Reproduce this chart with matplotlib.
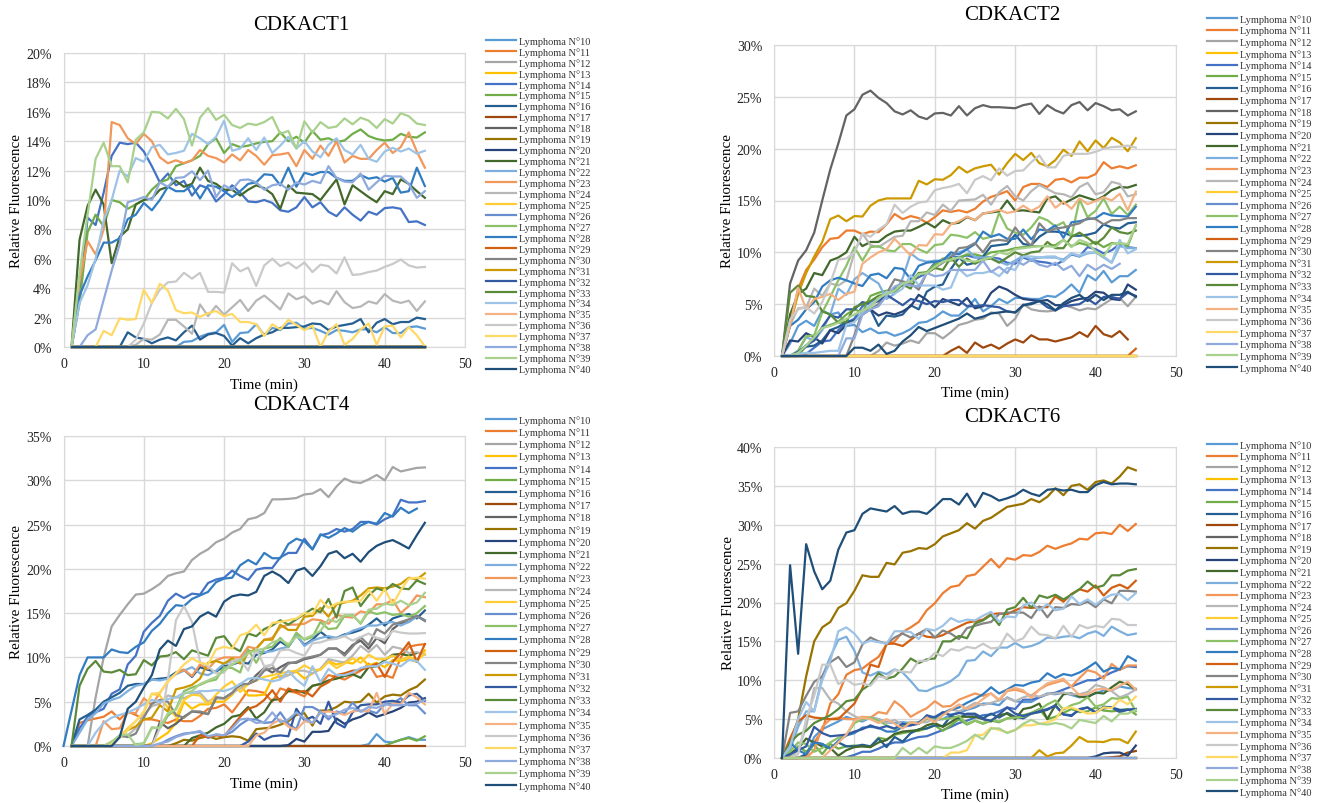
import matplotlib
matplotlib.use('Agg')
import matplotlib.pyplot as plt
from matplotlib.ticker import PercentFormatter

plt.rcParams['font.family'] = ['Liberation Serif', 'DejaVu Serif']

# Office palette order, one colour per lymphoma number
colors = {10: '#5B9BD5', 11: '#ED7D31', 12: '#A5A5A5', 13: '#FFC000', 14: '#4472C4', 15: '#70AD47',
          16: '#255E91', 17: '#9E480E', 18: '#636363', 19: '#997300', 20: '#264478', 21: '#43682B',
          22: '#7CAFDD', 23: '#F1975A', 24: '#B7B7B7', 25: '#FFCD33', 26: '#698ED0', 27: '#8CC168',
          28: '#327DC2', 29: '#D26012', 30: '#848484', 31: '#CC9A00', 32: '#335AA1', 33: '#5A8A39',
          34: '#9DC3E6', 35: '#F4B183', 36: '#C9C9C9', 37: '#FFD966', 38: '#8FAADC', 39: '#A9D18E',
          40: '#1F4E79'}
numbers = list(range(10, 41))

# CDKACT1 (percent, minute 1 to 45)
a1_10 = [0]*14 + [0.35,0.4,0.7,0.9,1,1.5,0.35,0.95,1,1.55,0.8,1.3,1.15,1.6,1.65,1.25,1.3,1.1,0.85,1.15,1.1,1,1.2,1.2,1,1.35,0.95,0.95,1.35,1.4,1.25]
a1_14 = [0,3.2,8.8,8.3,10.5,13,13.9,13.8,13.9,13.3,12.3,11.2,11.8,11,11.3,10.3,11,10.8,9.9,10.4,11,10.5,9.9,9.85,10,9.8,9.3,9.2,9.5,10.2,9.5,9.85,9.2,8.9,9.5,9,8.6,9.2,9,9.45,9.5,9.4,8.5,8.55,8.3]
a1_15 = [0,3,7.8,9,8.2,10,9.85,9.4,9.7,10,10.7,11.2,11.4,12.3,12.5,12.7,13,13.8,14.2,13.2,13.8,13.6,13.7,13.85,13.95,14,14.6,14,14.3,13.9,14.7,14.1,14.2,13.95,14.05,14.5,14.8,14.35,14.15,14.05,14.1,14.5,14.3,14.25,14.6]
a1_16 = [0]*7 + [1,0.65,0.55,0.25,0.5,0.65,0.45,1,1.45,0.5,0.85,0.95,0.75,0.1,0.6,0.25,0.6,0.85,1,1.3,1.3,1.35,1.4,1.6,1.55,1.15,1.4,1.5,1.6,1.9,1,1.65,1.9,1.55,1.7,1.7,2,1.9]
a1_21 = [0,7.3,9.6,10.7,9.7,5.7,7.5,8,9.7,10,10.1,10.7,10.9,11.3,10.9,11.1,12.2,11.3,11.1,10.7,10.7,10.3,10.7,11,10.8,10.4,9.4,11,10.5,10.45,10.4,10,10.7,11.4,9.7,11,10.6,10.2,9.85,10.6,10.4,11.4,11.1,10.6,10.15]
a1_23 = [0,4.5,7.2,6.3,8,15.3,15.1,14.2,13.8,14.5,14,12.9,12.5,12.7,12.5,12.7,13.4,13,12.85,12.55,13.1,12.7,13.4,13,12.4,13.05,13.1,13.2,12.3,13.4,12.8,13.7,13,14,12.55,13,12.8,12.8,13.4,13.9,13.2,13.6,14.6,13.3,12.2]
a1_24 = [0]*8 + [0.15,0.55,0.5,0.85,1.85,1.85,1.4,0.9,2.9,2.1,2.8,2.2,2.7,3.2,2.45,3.15,3.5,3.05,2.55,3.65,3.25,3.45,2.95,3.15,2.9,3.8,3.05,2.65,2.75,3.1,2.95,3.6,3.15,3,3.15,2.45,3.1]
a1_28 = [0,3.5,4.8,5.9,7.1,7.1,7.4,8.7,9,9.8,9.3,10,10.9,10.6,10.6,11,10.1,11,10.9,10.6,10.2,10.6,11.1,11.2,11.75,11.7,11,12.2,10.9,11.85,11.7,11.9,11.9,11.5,11.3,11.3,11.7,11.45,11.55,11.25,11.5,10.5,10.6,12.2,10.95]
a1_34 = [0,3,4.2,6,8.6,10,12,11.6,12.85,12.6,13.6,13.75,13.1,13.2,13.35,14.5,14.2,13.8,14.3,15.4,13.35,13.5,14.2,13.4,14.25,13.2,13.7,14.3,13.5,14,13.3,12.9,13.75,14.2,13.4,13.1,13.75,12.8,12.6,13.3,13.55,13.3,13.5,13.15,13.35]
a1_36 = [0]*8 + [0.5,1.6,3,3.9,4.4,4.45,5.05,4.65,5.05,3.75,3.75,3.7,5.7,5.15,5.4,4.15,5.55,6,5.5,5.75,5.35,5.75,5.1,5.6,5.5,5,6.1,4.9,4.95,5.1,5.2,5.45,5.65,5.95,5.55,5.4,5.45]
a1_37 = [0]*4 + [1.1,0.8,1.95,1.85,1.9,3.9,3,4.3,3.85,2.5,2.3,2.35,2.05,2.3,2.45,2.1,2.25,1.7,1.7,1.55,0.75,1.55,1.2,1.85,1.5,1.15,1.45,0,1.05,1.55,0.15,0.55,1.2,1.6,0.15,1.4,1.45,0.65,1.35,0.8,0.05]
a1_38 = [0,0,0.8,1.2,3.2,5.2,7,9.85,10,10.2,10,11.2,10.9,11.5,11.55,11.95,11.35,12,10.2,11,10.7,11.35,11.4,11.2,10.7,11,11.1,10.7,11.2,11.05,11.3,11.15,12.3,11.5,11.25,11.2,11.8,10.7,11.2,11.65,11.6,11.6,11.1,10.15,10.6]
a1_39 = [0,5,9,12.8,13.9,12.3,12.3,11.2,14.1,14.6,16,15.95,15.55,16.2,15.5,13.7,15.6,16.25,15.45,15.8,15.1,14.9,15.2,15.1,15.3,15.65,14.5,14.7,13.5,15.35,14.6,15.3,14.9,15,15.55,15.15,15.6,15.4,14.9,15.5,15.2,15.9,15.7,15.2,15.1]

# CDKACT2
a2_10 = [0,1.2,2.9,3.4,2.9,4.4,4,4.2,2.9,3,2.3,2.65,2.2,2.3,1.95,2.2,2.6,3.2,3.3,3.7,4.3,3.9,3.9,4.6,5.5,4.3,4.8,5.5,5.1,5.6,5.6,5.5,5.5,5.8,5.7,6.2,6.9,6.1,7.8,7.3,8.2,7.1,7.7,7.7,8.3]
a2_11 = [0,3,6.5,8.3,9.3,10.5,11.3,11.4,12.1,12.1,11.75,12,11.95,12.7,13.7,13.2,13.5,13.3,12.85,13.4,14.05,13.9,14.05,13.85,14.2,14.9,15.35,15.6,15.9,15,16.3,16.6,16.6,16.3,17,17.1,16.75,17.2,17.2,17.55,18.7,18.1,18.3,18.1,18.4]
a2_12 = [0]*12 + [0.5,1.3,1,1.2,1.5,1.25,2.2,2.2,1.7,2.3,3,3.2,3.5,3.6,4.2,4.1,2.9,3.6,5,4.5,4.35,4.3,4.4,4.9,4.7,4.4,4.6,4.5,5,5.5,5.6,4.8,5.7]
a2_14 = [0,0,0,0.2,0.8,1.4,1.5,2.5,3.2,3.6,4.8,5.2,5.5,6,6.5,6.8,7.2,7.6,8,9,9.3,9.7,9.5,9.7,9.5,9.5,9.5,9.4,9,8.9,9.5,9.2,9.1,9,8.8,9.2,9.8,9.6,10.5,10.3,9.9,10.2,10.8,10.5,10.4]
a2_15 = [0,0,0,1,1.8,2.7,3,3.3,4,4.5,4.2,5.8,6.1,6.3,6.3,7,7.2,8,8.1,8.8,9.4,9.2,9.5,9.8,9.8,9.6,10,10.1,10.2,10.4,10.5,10.6,10.6,10.6,10.7,11.2,10.6,10.9,10.7,11,10.5,10.9,10.8,10.6,12.6]
a2_16 = [0,0,0.3,0.9,1,1.5,2.5,2.8,3.3,3.4,4.2,4.5,2.9,3.9,3.8,4,4.9,4.5,6.2,6.7,6.9,8.4,9.5,8.8,9,9.6,10.6,10.7,10.8,11.7,10.8,10.7,11.5,12,12,11.9,11.6,11.6,11.7,11.9,12.7,12.4,12.3,12.8,12.9]
a2_17 = [0]*21 + [0.5,0.9,0.3,1.3,0.8,1.1,0.7,1.2,1.6,1.3,2,1.6,1.6,1.4,1.6,1.8,2.3,1.85,2.9,2.1,1.85,2.4,1.6]
a2_18 = [0,7,9.2,10.2,11.9,15,18,20.5,23.2,23.8,25.2,25.6,24.9,24.4,23.6,23.3,23.7,23.1,22.85,23.4,23.45,23.2,24.1,23.2,23.9,24.2,24,24,23.95,23.9,24.2,24.35,23.35,24.2,23.7,23.4,24.2,24.5,23.7,24.4,24.1,23.7,23.8,23.2,23.6]
a2_20 = [0,1.5,1.4,2.2,1.8,1.2,2.5,2.2,3,3.4,4,4.5,3.9,4.2,4,4.3,4.8,5.9,5.4,4.7,5.5,5.2,4.9,5.6,4.6,4.8,6.1,6.7,6.4,5.9,5.5,5.4,5.3,5.4,4.9,4.9,5.3,5.5,5.6,6.2,6.1,5.5,5.4,6.9,6.4]
a2_21 = [0,4,6,6.5,8,7.8,9.2,9.5,10,11.5,10.6,11,11,11.6,12,12.1,12.1,12.45,12.85,12.4,13.1,12.75,12.85,13.4,13.1,13.75,13.85,13.95,15,14,14.05,13.95,13.85,15.2,15.4,14.7,15.1,15.5,15.25,15,15.4,16,16.3,16.25,16.5]
a2_22 = [0,0,0.5,1.8,1.5,2.5,4,6.5,5.9,7.4,8,7.5,7,5.5,6,7.5,9.9,9.3,9.1,9.2,9.2,9.7,10,10.3,9.5,9.5,9.5,9.1,8.8,9.2,9.7,9.3,9.5,9.5,9.5,9.3,9.9,9.6,9.9,10,9.5,9,10.6,10.4,10.4]
a2_24 = [0,3,4.6,4.7,6.5,5.8,7,6.8,7.3,10,11.8,10.7,10.5,11,11.5,11.6,13,13,13.85,13.6,14.6,14,15,15.05,15.1,15.55,14.6,15.8,16.4,15.4,15,15.9,16.5,16.1,15.7,15.6,15.3,16.3,16.7,15.6,15.8,16.8,16.6,15.4,15.6]
a2_27 = [0,0,0.5,1.9,2,4.2,5.7,7.3,8.7,10.5,9.2,10.5,10.6,10.2,10.1,10.8,10.8,10.3,9.95,10.7,10.8,11.7,11.6,11.4,11.95,11.3,11.5,13.8,12.3,11.9,11.7,12.4,13.4,13.1,12.5,12.9,11.5,15.1,13.4,14,15.2,13.7,14.4,13.6,14.6]
a2_28 = [0,2.9,3.5,4.5,5.2,6.7,7.3,7.55,7.3,7,6.75,7.8,7.95,7.5,8.5,8.4,7.4,8.7,9,9.1,9.2,10,9.8,10.3,10.8,12,11.5,11.75,11.3,11.3,12.2,11.25,12.2,12.1,12.6,11.4,12.9,13,13.2,13.3,13.8,13.55,13.5,13.45,14.4]
a2_29 = [0]*44 + [0.7]
a2_30 = [0]*9 + [2,4.3,4.5,5,6,7.4,7.2,7,6.4,8,8.5,9,9.5,10.4,10.5,10.9,10,11.1,11.2,11.1,12.4,11.4,10.6,12.8,12,12.3,12.4,12.6,12.8,13.3,13.2,12.7,13.1,13.1,13.3,13.3]
a2_31 = [0,3,6,8,9.6,11,13.2,13.55,13,13.5,13.45,14.5,15,15.2,15.2,15.2,15.2,16.9,16.55,17.05,17,17.45,18.25,17.7,18.1,18.3,18.45,17.5,18.6,19.5,18.9,19.6,18.6,18.3,18.9,19.9,19.3,20.7,19.75,20.8,20.05,21.05,20.6,19.75,21]
a2_32 = [0,0,0.4,1,1.5,2.8,3.9,3.7,4.5,4.5,5.2,5,5.3,5.9,5.4,4.9,5.5,5.3,5,5.3,5.2,5.4,5.4,4.8,4.8,4.9,4.8,4.7,4.3,4.2,4.9,5.1,5.3,4.7,4.4,4.8,4.9,5,5.5,5,5.7,5.7,5.5,6.1,5.8]
a2_33 = [0,6.1,6.8,5.8,5.7,4.3,4,3.2,3.3,4.7,5,5.3,5.8,6,6.2,6.9,6.5,8,8,8.5,8.3,9.5,8.6,9.4,8.9,9.3,9.4,9,9.5,10,9.7,10,10.1,11,10.4,10.4,11.5,11.9,11.4,10.8,11.4,12.4,11.95,11.8,12.1]
a2_34 = [0,0.1,0.2,0.3,0.3,0.4,0.5,0.5,3,3.3,4.2,5,5.5,6.2,6,6.5,7.8,6.8,6.8,6.8,6.4,6.6,8.4,7.7,8,8,8.2,7.7,8.5,8.3,9.6,9.6,9.5,9.6,9.6,9.1,9.9,9.7,10,10,9.6,9,11.2,9.9,10.3]
a2_35 = [0,3,6.6,4.5,5.5,5.7,6,5.4,6,6.2,8.9,9.5,10,10.3,11.3,10.5,9.7,10.7,10.65,11.75,11.7,12.7,13,13.45,13.1,13.75,13.9,14.1,13.8,13.95,14.5,14,14.4,15.4,14.3,14.9,14.2,15.2,14.65,14.95,15.3,15,15.65,14.05,15.85]
a2_36 = [0,3.5,4.5,4.7,4.1,5.2,7,9.3,9.4,10,11.8,11.5,12.2,12.7,14.6,13.8,14.4,14.8,14.9,16,16.2,16.35,16.6,15.7,17,17.35,16.95,18.1,17.4,17.85,17.9,18.7,19.35,18.2,18.2,19.3,19.5,19.5,19.5,19.7,20,20.15,20.2,20.3,20.1]
a2_38 = [0]*8 + [1.7,1.7,4,4.5,4.8,5.8,6.7,7,6.8,6.7,8,7.7,7.8,8.3,8.3,8.3,8.3,9.2,8.1,8.6,8,9.2,8.8,9.3,8.8,8.6,9,8.3,8.7,7.7,8.8,8.3,8.8,8.4,8.9]
a2_39 = [0,0,0.3,1,1.8,2.7,2.9,3.2,3.6,4,4.4,4.7,5.6,6,6.3,7,7.2,7.9,8,8.6,9.1,9.3,9.5,9.2,9.1,9.3,9.5,10,9.8,10.3,10.4,10.5,10.6,10.6,10.5,11.2,10.5,11.2,10.9,10.1,9.6,10.8,10.9,10.8,12.6]
a2_40 = [0]*9 + [0.8,0.8,0.5,1.1,0.2,0.5,1.4,2,2.8,2.4,2.7,3,3.3,3.6,4.1,3.6,3.8,4.1,4.2,4.3,4.2,4.9,5,5.3,5,4.4,5.1,5.6,5.9,5.3,5.9,5.4,5.9,5.9,6.2,5.7]

# CDKACT4
a4_10 = [0]*37 + [0.2,1.35,0.5,0.4,0.7,1,0.7,0.7]
a4_11 = [0,2.6,2.9,3.1,3.3,3.9,3,3.9,3.5,3,3,2.8,2.6,3,2.8,2.8,3.4,4.2,4.3,4.7,3.8,5,6.3,6.2,6,5,6.5,6.2,6,5.6,6.8,7,8,7.8,7.5,8,8.5,9.3,7.8,8,7.7,10,11.2,11.4,11.5]
a4_12 = [0,0,0,5.5,10,13.5,14.8,16,17.1,17.2,17.7,18.3,19.2,19.5,19.7,21,21.7,22.2,23,23.4,24.1,24.5,25.6,25.8,26.3,27.85,27.85,27.9,28,28.4,28.5,29,28.1,29.3,30.2,29.8,29.7,30.1,30.6,30,31.5,31,31.2,31.4,31.45]
a4_13 = [0]*10 + [0.3,0.9,1.5,2.6,5,4.2,4.7,4.7,5,5,5.8,6.9,5.7,5.7,5.8,7.6,7.9,8,8.4,7.6,8.2,8.7,9.6,9.2,9.5,9.3,10,9.1,9.4,8.9,9.7,9.6,9.8,9.5,10.8]
a4_14 = [0,2,3.3,3.8,4.2,5.9,6.4,9.2,10.2,12.9,13.9,14.7,16.4,17.2,16.7,17.2,17.1,18.4,18.8,19,19.8,19.2,18.75,19.9,20.1,20.1,21.3,21.8,21.8,23.4,22.2,23.8,24,24.5,24.2,24.5,25.3,25.3,25,25.6,26,27.8,27.5,27.5,27.65]
a4_15 = [0]*40 + [0.4,0.7,0.9,0.6,1.1]
a4_16 = [0,3,3.5,4.1,5,5.5,6,6.8,7,7,7.5,7.6,7.7,8.3,8.6,7.8,8.9,8.6,8.4,9,9.2,9.5,9.3,10.3,10.5,10.9,11.8,11.2,12.5,11.4,12,12.9,12.2,12.2,12.6,12.8,13.1,13.7,14.4,13.6,14.4,14.7,14.9,14.4,15.3]
a4_17 = [0]*45
a4_18 = [0]*11 + [2.7,2,2.5,3.3,3.9,3.8,3.6,5.4,5.4,6,6.9,7,8,8.8,8.3,8.9,9.4,9.4,9.8,10,10.3,11,11,10.4,11.4,11.9,11,12.2,11.6,13.2,13.9,14,14.7,14.2]
a4_19 = [0]*13 + [0.3,0.7,0.6,0.9,1.1,0.8,1,1.1,1,0.6,1.9,2,2.1,2.4,2.8,3.5,3.7,2.3,4,4,4.4,5,4.9,5,5.9,4.9,5.6,5.8,5.7,6.3,6.7,7.5]
a4_20 = [0]*27 + [0.1,0.8,0.5,1.6,1.6,1.7,3.1,2.5,3,3.3,3.8,3.3,3.6,3.9,4.3,4.9,5,5.4]
a4_21 = [0]*15 + [0.9,1.2,1.5,2.1,2.5,3.3,3.5,4.4,3.1,3.8,5.2,5.3,6.2,6.3,6,6.8,7,7.4,7.6,7.9,8.1,7.7,8.9,9,9.7,10.3,10.4,10.2,10.5]
a4_22 = [0,1.5,3,3.7,4.8,5.2,5.5,6.2,6.8,7,7.5,7.4,7.6,8.1,8.5,8.9,8.2,8,8.5,9.3,9.6,9.8,10.7,10.7,10.6,10.7,11,11.2,12.6,11.3,11.9,12.2,12.4,12.2,12.5,13,13.3,13.6,13.6,13.9,14,13.6,14,14.6,14.2]
a4_23 = [0,0,0,0,2.8,1.9,2,3.8,3.7,5.4,4.6,6,7.3,8.2,8.6,7.9,9.2,8.7,9.7,10,10,10,11.2,11,12,12.2,13.4,13.7,13.7,13.8,14.3,14.2,13.8,14.8,14.6,14.5,15.2,15,16,16,16.5,15,15.8,17,16.8]
a4_24 = [0]*6 + [1,1.2,2,3.5,4.5,4.8,5.7,5.5,5.4,5.8,6,5,5.5,5.3,6,6.5,7,7.5,8.8,9.2,7.6,8,8.5,8.5,8.2,8.7,9.8,9.6,9.4,10.2,11.3,10.6,11.4,10.3,11.2,11,10.5,10.6,10.3]
a4_25 = [0]*5 + [0.5,1,2,2.8,3.8,5.9,5.7,4.3,3.3,5.2,5.8,5.7,4.7,5.8,6.7,7.3,6.1,7,7.4,7.8,8,8.2,8.4,8.5,9.1,8.6,8.6,9.5,8.8,9.3,9.9,9.4,10.3,9.8,9.8,10.2,9.7,10.1,9.7,10.4]
a4_26 = [0]*11 + [0.2,0.7,1.1,1.4,1.5,1.6,0.9,1.3,1.2,1.6,2.4,3,3,2.6,2.7,3.8,2.5,1.9,4.4,4.4,3.9,3,3.9,3.7,4.9,3.9,4,3.7,4.7,4.8,5.4,4.6,4.6,3.7]
a4_27 = [0]*8 + [0.2,0.3,2.1,2,3.4,4.2,6.2,6.6,6.9,7.3,7.5,8.9,8.8,8.3,10.9,9.4,11,11.2,12.2,11.2,12.8,12,12.3,14,13.2,13.3,14.7,14.8,13.8,15.2,14.9,15.1,14.8,14.9,14.6,15,15.8]
a4_28 = [0,4,8,10,10,10,10.9,10.6,10.5,11.2,11.7,13,13.8,15,15.9,15.8,16.6,17,17.4,18.5,18.9,19,20.4,21,20.5,21.8,21.2,21.2,22.8,23.4,23.1,22.2,23.9,23.5,24,24.6,24.2,24.9,25.3,25.1,26.3,25.9,26.9,26.3,26.8]
a4_29 = [0]*16 + [1.2,1,1.2,1.1,2.2,3.3,4.2,4.5,5.2,6.3,5,6.5,6.1,6.2,5.6,6.7,7.2,8,8.2,8.5,8.6,8.9,9.3,7.8,9.5,10.5,11.7,9.5,11.5]
a4_30 = [0]*5 + [0.4,1.2,1,1.4,3.2,4.8,5.2,5,3.5,3.2,3.9,3.9,3.6,5.5,5.4,6,7,7,7.4,8.5,8.8,8.3,9.3,9.5,9.9,10.1,10.3,11,11,10.2,11.2,12.3,11.4,13.2,12.7,13.7,14,14.3,14.7,14.1]
a4_31 = [0,0,0,0,0,0.3,1,1.8,2.2,3,3.2,4.6,3.9,6.4,6.6,6.9,7.6,9.4,9.6,9.3,9.9,9.3,10.5,11,12,12,13.7,13.1,13.1,14.6,14.7,15.6,14.6,16,16.2,16.4,17,17.8,17.9,17.8,18,18.3,19,18.8,19.5]
a4_32 = [0]*22 + [0.5,1.4,0.7,1.1,1.2,1.1,4.2,2.9,3.3,2.5,5,2.6,2.1,3.8,4.6,4.7,4.7,5,5.1,4.9,5.7,5.9,5.1]
a4_33 = [0,6.8,8.7,9.6,8.4,8.3,8.6,8,8.1,9.7,9.1,10.1,10.2,10.6,9.8,10.8,10.5,10.2,12.2,12.4,11.2,10.7,12.7,12.4,13.2,13.6,14.2,13.7,14.3,14.9,15.5,15.1,16.6,14.5,17.5,17.9,15.8,17,17.8,17.5,18.3,17.8,17.7,18.7,18.3]
a4_34 = [0,0,0,1.5,2.6,3.2,3.5,3.8,4.2,4.7,5.2,5,5.3,5.5,6,6,6.2,6.2,6.3,6.2,6.5,7,7.6,7.7,7.5,7.3,7.5,8.5,7.5,6.8,9,7.2,8.7,8,8,8.3,8.8,9,9,9.5,9.3,9,9.7,9.6,8.6]
a4_35 = [0]*22 + [0,1.2,1.5,2.5,3,2.2,1.8,2.8,2.6,3.8,3.9,3.8,3.5,3.9,4,3.9,6,3.6,4.8,4.7,6,5.5,4.7]
a4_36 = [0]*11 + [2,7.5,14.2,15.8,14,9.5,9,8.2,8.3,9.6,9.8,8.5,11,9,9.2,10.8,10.9,10.5,10.2,11.6,11.7,12,12.1,12.4,11.9,12.3,12.7,12.2,12,13,12.8,12.7,12.7,12.75]
a4_37 = [0,0,0,0,0,0.3,1,1.8,2.8,3.9,5.9,6,7.3,8.2,9.2,9.9,9.4,9.2,10.9,11.2,11,12.5,12.8,13.7,12.5,13.9,14,14.2,14.4,15,14.9,16.5,15.6,16.1,16.3,16.3,16.4,17.6,16.4,17.7,16,17.6,18.9,19,18.9]
a4_38 = [0]*11 + [0.3,0.5,1,1.3,1.5,1.7,1.1,1.3,1.2,2,3,3.1,2.6,2.7,3.8,2.7,3,3.8,3.1,2.6,3.8,3.3,3.6,4.1,4.3,3.9,4.4,4.3,4.7,4.6,4.6,4.7,4.8,5.2]
a4_39 = [0,0,0,0,0,0.5,1.2,1.3,0.1,0.3,2,2.1,3.7,4.1,5.9,6.2,7,7.4,7.8,8.5,9.2,9.7,10.5,10.8,11,11.7,12,11.5,12.3,12.1,12.5,13,14.3,14,14.8,14.7,13.9,15.4,15.5,16.1,15.9,16.4,15.9,16.2,17.3]
a4_40 = [0]*6 + [1,4.2,5,6.6,8,10.9,11.9,11.3,13.2,13.5,14.6,15.1,14.6,16.3,16.9,17.1,17,17.4,19.2,19.7,19.2,18.4,19.8,20.1,19.2,20.3,21.7,22,21.2,21.7,20.8,21.9,22.6,23,23.25,22.8,22.3,23.8,25.2]

# CDKACT6
a6_10 = [0,0,0,0.3,2.7,3.7,4.2,4.7,5.3,4.9,4.7,5.2,5,4.6,4.5,4.6,4.5,4.4,5.1,4.9,5,5.6,5.8,6.2,6.5,7,7,6.8,7.8,7.3,7.2,7.2,7.8,8.3,8.2,8.4,8.1,7.8,8,8.3,8.7,8.7,9.2,9,8.9]
a6_11 = [0,0,0,0.3,2,3.5,7,8.2,10.7,11.3,11.5,12.3,13,14.6,15,16.2,16.8,17.5,19,19.9,21.2,22,22.2,23.4,23.6,24.6,25.6,24.5,25.7,25.5,26.1,26,26.5,27.3,26.9,27.3,27.6,28.2,28.1,28.9,29,28.8,30,29.2,30.1]
a6_14 = [0]*8 + [0.1,0.4,0.8,0.8,1.2,1.7,2,2,2.4,2.7,2.8,3.2,3.6,4,4.5,4.8,5.2,5.5,5.6,6,6.5,6.3,7.5,7.5,7.8,8.2,8.4,8.8,9.2,9.6,10,10,10.5,11,11.4,11.8,11.7]
a6_15 = [0,0.3,1.5,0.8,1.7,0.5,1.8,1.2,1.5,1.6,1.5,1.4,2.6,2.4,3,3.2,3.4,3.5,3.8,4.2,3.5,4.2,5,4.3,4.8,4.4,4.8,4.6,5.1,5.2,5.5,5.8,6.3,5,5.3,5.8,6.3,5.9,6,6.5,6.1,6,6.1,6.3,5.6]
a6_16 = [0,0,0,0.5,2,1.8,1.2,2,1.5,1.5,1.7,1.5,2.5,1.4,2.7,2.1,3.2,3.7,3.8,4.2,4.1,5.4,5.1,5.7,5.7,5.1,5.7,5.2,5.8,5.3,5.1,5.7,5.9,6.2,6.8,5.6,5.4,6.3,6.5,5.8,6.6,6.5,6.2,6.2,6.3]
a6_17 = [0]*41 + [0.1,0.2,0.7,0.9]
a6_19 = [0,2,5,10.5,15,16.8,17.5,19.3,19.9,21.5,23.5,23.3,23.3,25.1,24.9,26.4,26.6,27,26.9,27.5,28.5,28.9,29.3,30.2,29.5,30.5,30.9,31.6,32.3,32.5,32.7,33.3,32.9,33.6,34.7,33.8,35,35.2,34.5,35.5,35.7,35.3,36.2,37.4,37]
a6_20 = [0]*39 + [0.2,0.6,0.7,0.7,0.3,1.6]
a6_21 = [0,0.6,1.2,2.5,2,1.5,1.3,0.3,1,1.4,1.5,1.4,2,2.3,3.1,3.4,3.5,3.6,4.2,4.5,4,4.6,5.3,5.3,5.3,5,4.7,5.5,5.7,5,6.3,6.5,7,5,6.8,8.2,8.3,7.9,7.8,8.4,8.3,9.1,9.8,9.5,8.8]
a6_22 = [0,1,4,6,6,10.5,13,15.2,15.6,13.8,11,10.6,11.1,10.8,11.4,11,9.9,8.7,8.6,9.1,9.4,9.9,10.7,12.5,12.6,13.7,13.1,14.2,14.2,14.8,14.2,14.4,14.8,15.5,15.4,15.6,15.7,15.4,16,16.3,15.7,16.9,16.3,15.8,16]
a6_23 = [0,0,0,0,1,4,5,5.2,5,5,5.3,5.2,5.9,5.7,7.3,6.5,5.3,5.9,6.4,7.3,6.6,6.7,7.5,7.9,8.3,8,8.3,7.4,8.6,8.8,8.5,8,8.8,9.4,9.7,10,9.2,10.3,11.3,11,10.2,12.1,11.3,11.9,11.9]
a6_24 = [0,0,1,4,9,9,7.5,7,6,5.4,4.9,5.2,5,4.5,4.9,4.3,4.5,4.6,4.6,5.1,5.7,6.3,6,6.5,7.1,6.8,7.1,7.4,7.7,7.3,7.8,8.1,7.9,8.2,8.3,8.4,8.2,8.2,8.5,9.4,9.1,8.6,7.8,8.2,8.8]
a6_27 = [0,0.8,2,1.8,0.8,1.3,2,2.6,2.9,4.5,5,5.2,4.8,4.2,3.7,4.2,4.6,4.5,5,5.2,5,5.1,5.4,4.4,4.8,4.5,4.9,4.7,5.1,5.2,5.3,5.7,6.2,6.9,7.4,6.2,6.8,7.1,7.8,6.6,6.9,7.7,7.6,7.9,6]
a6_28 = [0,2,1,0.5,2,1.8,1.2,2.2,2.9,3.2,3.9,4,3.9,3.4,3.4,4,4.2,4.6,5.2,5.3,5.8,6.2,6.5,7.1,7.6,8.2,9.1,8.3,8.8,9.4,9.3,9.7,9.9,10.9,10.3,10.8,10.6,11,11.6,12.3,11.1,11.6,11.4,13.1,12.5]
a6_29 = [0,2.5,4.7,5.5,5.2,5.1,5,5,6,7,9,12,11.7,14.7,14.7,14.4,15.2,16,15.6,15.5,15.8,16.4,16.9,17.4,17.6,17.8,18.5,18.6,18.5,19,19.4,19.3,19.4,19.4,20.8,20.1,21.1,21.7,21.4,22.2,20.9,21.9,22.3,21.8,22.8]
a6_30 = [0,5.8,6,8,9.8,10.5,12.3,13,11.7,12.3,14.6,15.5,15,14.7,15.5,16,15.5,16,16.6,15.5,16.4,16,15.3,16.7,17,17.3,17.5,18.5,18.7,18.7,18.7,18,19.5,18.1,19.4,19.3,19.8,19.7,20.1,19.4,20.4,19.9,21.5,21.5,21.4]
a6_31 = [0]*32 + [1,0.2,0.6,0.7,1.6,2.7,2.1,2.1,2.05,2.4,2.4,1.9,3.4]
a6_32 = [0,0.5,1,1.5,4,3.2,2.8,2.9,3,3.4,3.7,4.2,3.8,4.1,3.8,4.4,4.2,4.4,5.5,5.2,5.9,5.5,5.8,5.6,5.6,5,4.8,5.6,6.5,5.7,5.4,5.7,6,6.3,6.7,5.6,5.5,6.2,6.5,5.9,6.4,6.5,5.9,6.2,6.3]
a6_33 = [0,2,3,3.5,4.5,5,5.5,6.3,7.3,7.5,8.8,9.5,10.9,10.2,10.5,11.5,12.8,12.2,12.7,12.8,15,15,15.7,15.4,17.3,17.7,18.4,17.1,19.1,19.4,20.6,19.3,20.9,20.6,21,20.4,21,21.7,22.7,21.9,22.2,23.5,23.5,24.1,24.3]
a6_34 = [0,1.5,5,7.2,6,10,12.5,16.3,16.8,16,14.7,15.1,14.9,14.7,16.3,16.3,16.2,15.3,16.6,16.4,17,18,17.5,17.8,17.7,18.3,18.8,17.5,18.2,18.1,19.6,20,19,19.8,19,19.2,20.8,19.8,20.4,19.7,20.5,21,21.1,20.3,21.2]
a6_35 = [0]*6 + [1,2,3,4.8,5.2,5,4.5,5,4.4,3.8,4.6,4.4,5.2,4.6,5.5,6.2,6.9,6.3,6.8,7.6,8.3,7.5,8.7,9,8.7,7.7,8.8,9.6,9.9,10.2,9.1,8.1,8.2,8.8,8.9,8.7,9.3,9.8,8.8]
a6_36 = [0,0,0.5,5,8,12,12,9.5,10.1,9.4,9.6,9.3,10.5,10.3,11.3,11.1,11,12.5,12.5,13.5,13.1,14,13.8,14.3,14.1,14.7,14.1,14.2,16,15,15.4,16.9,15.9,15.8,15.4,17,15.6,17.1,16.7,17,16.8,17.9,17.8,17.1,17.1]
a6_37 = [0]*21 + [0.7,0.7,1,2.9,3,3.9,3.6,3.3,3.6,4.2,4.2,4.4,4.6,5,6.4,6.5,6.1,5.7,5.8,6.5,6.4,7.5,6.9,7.9]
a6_38 = [0]*45
a6_39 = [0]*15 + [1.3,0.5,1.3,0.6,1.5,1.3,1.3,1.7,2.2,3,2.4,3.8,3.8,3.2,3.6,4.4,4.9,4.4,4.3,4.5,4.3,3.8,4.9,4.7,4.5,5.4,4.7,5.7,5.7,6.2]
a6_40 = [0,24.8,13.4,27.5,24,21.7,22.8,26.8,29,29.3,31.4,32.1,31.9,31.7,32.4,31.4,31.7,31.7,31.4,32.3,33.3,33.3,32.6,34,32.3,34.1,33.7,33.1,33.4,33.8,34.5,34,33.7,34.5,34.6,34.4,34.5,34.2,34.2,35.1,35.5,35.2,35.3,35.3,35.2]

series1 = {10: a1_10, 14: a1_14, 15: a1_15, 16: a1_16, 21: a1_21, 23: a1_23, 24: a1_24, 28: a1_28,
           34: a1_34, 36: a1_36, 37: a1_37, 38: a1_38, 39: a1_39}
series2 = {10: a2_10, 11: a2_11, 12: a2_12, 14: a2_14, 15: a2_15, 16: a2_16, 17: a2_17, 18: a2_18,
           20: a2_20, 21: a2_21, 22: a2_22, 24: a2_24, 27: a2_27, 28: a2_28, 29: a2_29, 30: a2_30,
           31: a2_31, 32: a2_32, 33: a2_33, 34: a2_34, 35: a2_35, 36: a2_36, 38: a2_38, 39: a2_39, 40: a2_40}
series4 = {10: a4_10, 11: a4_11, 12: a4_12, 13: a4_13, 14: a4_14, 15: a4_15, 16: a4_16, 17: a4_17,
           18: a4_18, 19: a4_19, 20: a4_20, 21: a4_21, 22: a4_22, 23: a4_23, 24: a4_24, 25: a4_25,
           26: a4_26, 27: a4_27, 28: a4_28, 29: a4_29, 30: a4_30, 31: a4_31, 32: a4_32, 33: a4_33,
           34: a4_34, 35: a4_35, 36: a4_36, 37: a4_37, 38: a4_38, 39: a4_39, 40: a4_40}
series6 = {10: a6_10, 11: a6_11, 14: a6_14, 15: a6_15, 16: a6_16, 17: a6_17, 19: a6_19, 20: a6_20,
           21: a6_21, 22: a6_22, 23: a6_23, 24: a6_24, 27: a6_27, 28: a6_28, 29: a6_29, 30: a6_30,
           31: a6_31, 32: a6_32, 33: a6_33, 34: a6_34, 35: a6_35, 36: a6_36, 37: a6_37, 38: a6_38,
           39: a6_39, 40: a6_40}

W, H = 1326, 804
fig = plt.figure(figsize=(W / 100, H / 100), dpi=100)


def panel(title, series, box, ymax, ystep, title_xy, ylabel_x, xlabel_y, leg_xy, leg_gap, start0=()):
    left, top, right, bottom = box
    ax = fig.add_axes([left / W, 1 - bottom / H, (right - left) / W, (bottom - top) / H])
    for n in numbers:
        # series without a readable curve sit on the baseline
        y = series.get(n, [0] * 45)
        t0 = 0 if n in start0 else 1
        ax.plot(range(t0, t0 + len(y)), y, color=colors[n], lw=1.6, label='Lymphoma N°%d' % n,
                solid_joinstyle='round', clip_on=False, zorder=3)
    ax.set_xlim(0, 50)
    ax.set_ylim(0, ymax)
    ax.set_xticks(range(0, 51, 10))
    ax.set_yticks(range(0, ymax + 1, ystep))
    ax.yaxis.set_major_formatter(PercentFormatter(100, decimals=0))
    ax.grid(color='#D9D9D9', lw=1)
    ax.set_axisbelow(True)
    ax.tick_params(length=0, labelsize=10, pad=8.5, colors='#222222')
    ax.tick_params(axis='x', pad=7)
    for s in ax.spines.values():
        s.set_color('#D9D9D9')
    fig.text(title_xy[0] / W, 1 - title_xy[1] / H, title, fontsize=15, ha='center', va='center')
    fig.text(ylabel_x / W, 1 - (top + bottom) / 2 / H, 'Relative Fluorescence', fontsize=10.8, rotation=90,
             ha='center', va='center')
    fig.text((left + right) / 2 / W, 1 - xlabel_y / H, 'Time (min)', fontsize=10.8, ha='center', va='center')
    ax.legend(loc='upper left', bbox_to_anchor=(leg_xy[0] / W, 1 - leg_xy[1] / H), bbox_transform=fig.transFigure,
              frameon=False, fontsize=7.5, handlelength=2.9, handletextpad=0.3, borderpad=0, borderaxespad=0,
              labelspacing=leg_gap, labelcolor='#333333')


panel('CDKACT1', series1, (63.5, 54, 465, 348), 20, 2, (301, 25), 17, 385, (486, 37), 0.115)
panel('CDKACT2', series2, (774, 46, 1176, 357), 30, 5, (1012, 15), 727, 393, (1207, 15), 0.18)
panel('CDKACT4', series4, (63.5, 437, 465, 747), 35, 5, (301, 406), 17, 784, (486, 416), 0.235, start0=(28,))
panel('CDKACT6', series6, (774, 448, 1176, 759), 40, 5, (1012, 418), 728, 795, (1207, 441), 0.175)

fig.savefig('out.png', dpi=100)
